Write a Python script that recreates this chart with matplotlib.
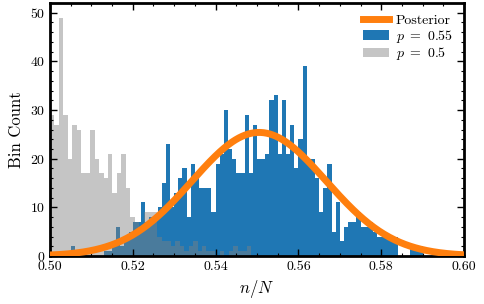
import numpy as np
import matplotlib
matplotlib.use('Agg')
import matplotlib.pyplot as plt
from matplotlib.ticker import MultipleLocator

plt.rcParams['font.family'] = 'serif'
plt.rcParams['font.serif'] = ['cmr10', 'DejaVu Serif']
plt.rcParams['mathtext.fontset'] = 'cm'
plt.rcParams['axes.formatter.use_mathtext'] = True

# histogram p = 0.55 (bin start, bin width, counts)
blue_start = 0.505
blue_width = 0.001
blue_counts = [2, 0, 0, 0, 0, 0, 0, 0, 1, 1,
               2, 6, 2, 4, 5, 7, 7, 11, 7, 8,
               8, 10, 15, 23, 10, 13, 16, 18, 8, 19,
               17, 14, 14, 14, 9, 19, 21, 30, 22, 20,
               17, 17, 29, 17, 27, 20, 20, 21, 32, 33,
               21, 32, 21, 27, 18, 24, 39, 20, 20, 16,
               9, 14, 19, 5, 11, 3, 6, 7, 7, 9,
               6, 6, 7, 5, 4, 4, 4, 4, 4, 0,
               0, 0, 2, 2, 2]

# histogram p = 0.5
gray_start = 0.500
gray_width = 0.00108
gray_counts = [29, 27, 49, 29, 20, 27, 26, 17, 17, 26,
               20, 17, 16, 21, 13, 17, 21, 14, 8, 7,
               5, 9, 9, 9, 4, 3, 3, 2, 3, 2,
               1, 2, 3, 1, 2, 1, 1, 0, 1, 0,
               1, 2, 1, 1, 2]

# posterior (normal approx.)
post_mean = 0.5505
post_std = 0.0162
post_peak = 25.4

blue_edges = blue_start + blue_width * np.arange(len(blue_counts))
gray_edges = gray_start + gray_width * np.arange(len(gray_counts))

fig, ax = plt.subplots(figsize=(4.84, 3.04), dpi=100)
fig.subplots_adjust(left=0.103, right=0.959, top=0.99, bottom=0.158)

ax.bar(blue_edges, blue_counts, width=blue_width, align='edge',
       color='#1f77b4', label=r'$p\ =\ 0.55$')
ax.bar(gray_edges, gray_counts, width=gray_width, align='edge',
       color='gray', alpha=0.45, label=r'$p\ =\ 0.5$')

x = np.linspace(0.5, 0.6, 400)
ax.plot(x, post_peak * np.exp(-0.5 * ((x - post_mean) / post_std) ** 2),
        color='#ff7f0e', lw=5, label='Posterior', zorder=5)

ax.set_xlim(0.5, 0.6)
ax.set_ylim(0, 52)
ax.xaxis.set_major_locator(MultipleLocator(0.02))
ax.xaxis.set_minor_locator(MultipleLocator(0.005))
ax.yaxis.set_major_locator(MultipleLocator(10))
ax.yaxis.set_minor_locator(MultipleLocator(2))
ax.xaxis.set_major_formatter(matplotlib.ticker.FormatStrFormatter('%.2f'))
ax.tick_params(which='both', direction='in', top=True, right=True, labelsize=10)
ax.tick_params(which='major', length=5, width=1)
ax.tick_params(which='minor', length=2.5, width=0.8)
for s in ax.spines.values():
    s.set_linewidth(2)

ax.set_xlabel(r'$n/N$', fontsize=12)
ax.set_ylabel('Bin Count', fontsize=12)

ax.legend(loc='upper right', frameon=False, fontsize=10,
          handlelength=1.9, handletextpad=0.5, labelspacing=0.05,
          borderaxespad=0.4)

fig.savefig('out.png', dpi=100)
